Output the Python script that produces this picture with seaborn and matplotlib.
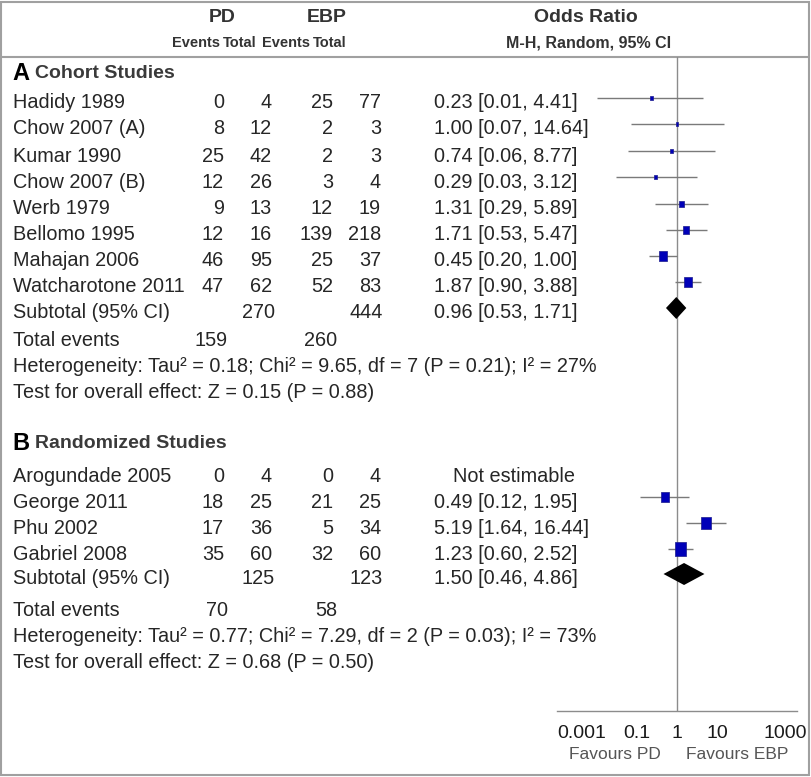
import matplotlib
matplotlib.use("Agg")
import matplotlib.pyplot as plt
import matplotlib.patches as mpatches
import matplotlib.transforms as mtransforms
import numpy as np
import pandas as pd
import seaborn as sns

# Cohort studies (A)
studies_a = ['Hadidy 1989', 'Chow 2007 (A)', 'Kumar 1990', 'Chow 2007 (B)',
             'Werb 1979', 'Bellomo 1995', 'Mahajan 2006', 'Watcharotone 2011']
pd_events_a = [0, 8, 25, 12, 9, 12, 46, 47]
pd_total_a = [4, 12, 42, 26, 13, 16, 95, 62]
ebp_events_a = [25, 2, 2, 3, 12, 139, 25, 52]
ebp_total_a = [77, 3, 3, 4, 19, 218, 37, 83]
or_a = [0.23, 1.00, 0.74, 0.29, 1.31, 1.71, 0.45, 1.87]
lo_a = [0.01, 0.07, 0.06, 0.03, 0.29, 0.53, 0.20, 0.90]
hi_a = [4.41, 14.64, 8.77, 3.12, 5.89, 5.47, 1.00, 3.88]
weight_a = [2.7, 2.3, 4.0, 3.1, 11.0, 14.8, 25.0, 26.5]
subtotal_a = (0.96, 0.53, 1.71)
totals_a = (270, 444)
tot_events_a = (159, 260)
het_a = 'Heterogeneity: Tau² = 0.18; Chi² = 9.65, df = 7 (P = 0.21); I² = 27%'
test_a = 'Test for overall effect: Z = 0.15 (P = 0.88)'

# Randomized studies (B)
studies_b = ['Arogundade 2005', 'George 2011', 'Phu 2002', 'Gabriel 2008']
pd_events_b = [0, 18, 17, 35]
pd_total_b = [4, 25, 36, 60]
ebp_events_b = [0, 21, 5, 32]
ebp_total_b = [4, 25, 34, 60]
or_b = [np.nan, 0.49, 5.19, 1.23]
lo_b = [np.nan, 0.12, 1.64, 0.60]
hi_b = [np.nan, 1.95, 16.44, 2.52]
weight_b = [0, 25.0, 36.0, 49.0]
subtotal_b = (1.50, 0.46, 4.86)
totals_b = (125, 123)
tot_events_b = (70, 58)
het_b = 'Heterogeneity: Tau² = 0.77; Chi² = 7.29, df = 2 (P = 0.03); I² = 73%'
test_b = 'Test for overall effect: Z = 0.68 (P = 0.50)'

axis_ticks = [0.001, 0.1, 1, 10, 1000]
axis_labels = ['0.001', '0.1', '1', '10', '1000']

sns.set_theme(style='white')
plt.rcParams['font.family'] = ['Liberation Sans', 'DejaVu Sans']

W, H = 812, 777
fig = plt.figure(figsize=(W / 100, H / 100), dpi=100)
fig.patch.set_facecolor('white')

# text layer in pixel coordinates
tx = fig.add_axes([0, 0, 1, 1])
tx.set_xlim(0, W)
tx.set_ylim(H, 0)
tx.axis('off')

# forest panel
x0, x1, y_top, y_axis = 557, 797, 57, 711
fx = fig.add_axes([x0 / W, (H - y_axis) / H, (x1 - x0) / W, (y_axis - y_top) / H])
fx.set_xscale('log')
fx.set_xlim(1e-3, 1e3)
fx.set_ylim(y_axis, y_top)
fx.patch.set_alpha(0)
for s in ['top', 'right', 'left']:
    fx.spines[s].set_visible(False)
fx.spines['bottom'].set_color('#8c8c8c')
fx.spines['bottom'].set_linewidth(1)
fx.set_xticks(axis_ticks)
fx.set_xticklabels(axis_labels)
fx.minorticks_off()
fx.tick_params(axis='x', direction='inout', length=12, width=1, color='#8c8c8c',
               labelsize=14, labelcolor='#1a1a1a', pad=4)
fx.set_yticks([])
labels = fx.get_xticklabels()
labels[0].set_horizontalalignment('left')
labels[-1].set_horizontalalignment('right')
labels[-1].set_transform(labels[-1].get_transform() +
                         mtransforms.ScaledTranslation(10 / 100, 0, fig.dpi_scale_trans))
fx.axvline(1, color='#8c8c8c', lw=1, zorder=1)
fx.text(0.24, -0.066, 'Favours PD', transform=fx.transAxes, ha='center', va='center',
        fontsize=12.5, color='#555555')
fx.text(0.75, -0.066, 'Favours EBP', transform=fx.transAxes, ha='center', va='center',
        fontsize=12.5, color='#555555')

FS = 14.3
col_pd_e, col_pd_t, col_ebp_e, col_ebp_t, col_or = 224, 272, 333, 381, 434
mark_shift = 5

# frame + header
tx.add_patch(mpatches.Rectangle((1, 2), 808, 773, fill=False, ec='#a0a0a0', lw=1.5))
tx.plot([1, 809], [57, 57], color='#a0a0a0', lw=1.5)
hc = '#333333'
hkw = dict(va='center', fontweight='bold', color=hc)
tx.text(222, 18, 'PD', ha='center', fontsize=14, **hkw)
tx.text(327, 18, 'EBP', ha='center', fontsize=14, **hkw)
tx.text(586, 18, 'Odds Ratio', ha='center', fontsize=14, **hkw)
tx.text(220, 43, 'Events', ha='right', fontsize=10.5, **hkw)
tx.text(223, 43, 'Total', ha='left', fontsize=10.5, **hkw)
tx.text(262, 43, 'Events', ha='left', fontsize=10.5, **hkw)
tx.text(313, 43, 'Total', ha='left', fontsize=10.5, **hkw)
tx.text(589, 43, 'M-H, Random, 95% CI', ha='center', fontsize=11.5, **hkw)

marker_rect = [(-0.4, -0.5), (0.4, -0.5), (0.4, 0.5), (-0.4, 0.5), (-0.4, -0.5)]


def draw_section(letter, title, title_y, row_y, studies, pe, pt, ee, et, ors, los, his,
                 weights, subtotal, totals, tot_events, het, test, after_y):
    tx.text(12, title_y, letter, ha='left', va='center', fontsize=17, fontweight='bold', color='black')
    tx.text(35, title_y, title, ha='left', va='center', fontsize=14, fontweight='bold', color='#3a3a3a')
    for i, name in enumerate(studies):
        y = row_y[i]
        tx.text(13, y, name, ha='left', va='center', fontsize=FS)
        tx.text(col_pd_e, y, str(pe[i]), ha='right', va='center', fontsize=FS)
        tx.text(col_pd_t, y, str(pt[i]), ha='right', va='center', fontsize=FS)
        tx.text(col_ebp_e, y, str(ee[i]), ha='right', va='center', fontsize=FS)
        tx.text(col_ebp_t, y, str(et[i]), ha='right', va='center', fontsize=FS)
        if np.isnan(ors[i]):
            tx.text(514, y, 'Not estimable', ha='center', va='center', fontsize=FS)
        else:
            tx.text(col_or, y, f'{ors[i]:.2f} [{los[i]:.2f}, {his[i]:.2f}]',
                    ha='left', va='center', fontsize=FS)
    sy = row_y[len(studies)]
    tx.text(13, sy, 'Subtotal (95% CI)', ha='left', va='center', fontsize=FS)
    tx.text(col_pd_t + 3, sy, str(totals[0]), ha='right', va='center', fontsize=FS)
    tx.text(col_ebp_t + 2, sy, str(totals[1]), ha='right', va='center', fontsize=FS)
    tx.text(col_or, sy, f'{subtotal[0]:.2f} [{subtotal[1]:.2f}, {subtotal[2]:.2f}]',
            ha='left', va='center', fontsize=FS)
    tx.text(13, after_y[0], 'Total events', ha='left', va='center', fontsize=FS)
    tx.text(col_pd_e + 4, after_y[0], str(tot_events[0]), ha='right', va='center', fontsize=FS)
    tx.text(col_ebp_e + 4, after_y[0], str(tot_events[1]), ha='right', va='center', fontsize=FS)
    tx.text(13, after_y[1], het, ha='left', va='center', fontsize=FS)
    tx.text(13, after_y[2], test, ha='left', va='center', fontsize=FS)

    # forest marks
    df = pd.DataFrame({'y': np.array(row_y[:len(studies)]) - mark_shift, 'or': ors,
                       'lo': los, 'hi': his, 'w': weights}).dropna()
    fx.hlines(df['y'], df['lo'], df['hi'], color='#7a7a7a', lw=1, zorder=2)
    box_px = 2.05 * np.sqrt(df['w'])
    sizes = (box_px * 72 / 100) ** 2
    sns.scatterplot(data=df, x='or', y='y', ax=fx, marker=marker_rect, s=sizes,
                    color='#0000b8', edgecolor='#1a1a8c', linewidth=0.5, zorder=3, legend=False)
    dy = sy - mark_shift
    est, lo, hi = subtotal
    fx.fill([lo, est, hi, est], [dy, dy - 11, dy, dy + 11], color='black', zorder=4, lw=0)


rows_a = [103, 129, 156, 182, 209, 235, 261, 287, 313]
rows_b = [476, 502, 528, 554, 579]
draw_section('A', 'Cohort Studies', 73, rows_a, studies_a, pd_events_a, pd_total_a,
             ebp_events_a, ebp_total_a, or_a, lo_a, hi_a, weight_a, subtotal_a,
             totals_a, tot_events_a, het_a, test_a, (340, 366, 392))
draw_section('B', 'Randomized Studies', 444, rows_b, studies_b, pd_events_b, pd_total_b,
             ebp_events_b, ebp_total_b, or_b, lo_b, hi_b, weight_b, subtotal_b,
             totals_b, tot_events_b, het_b, test_b, (610, 636, 662))

fx.set_xlabel('')
fx.set_ylabel('')
fig.savefig('out.png', dpi=100)
